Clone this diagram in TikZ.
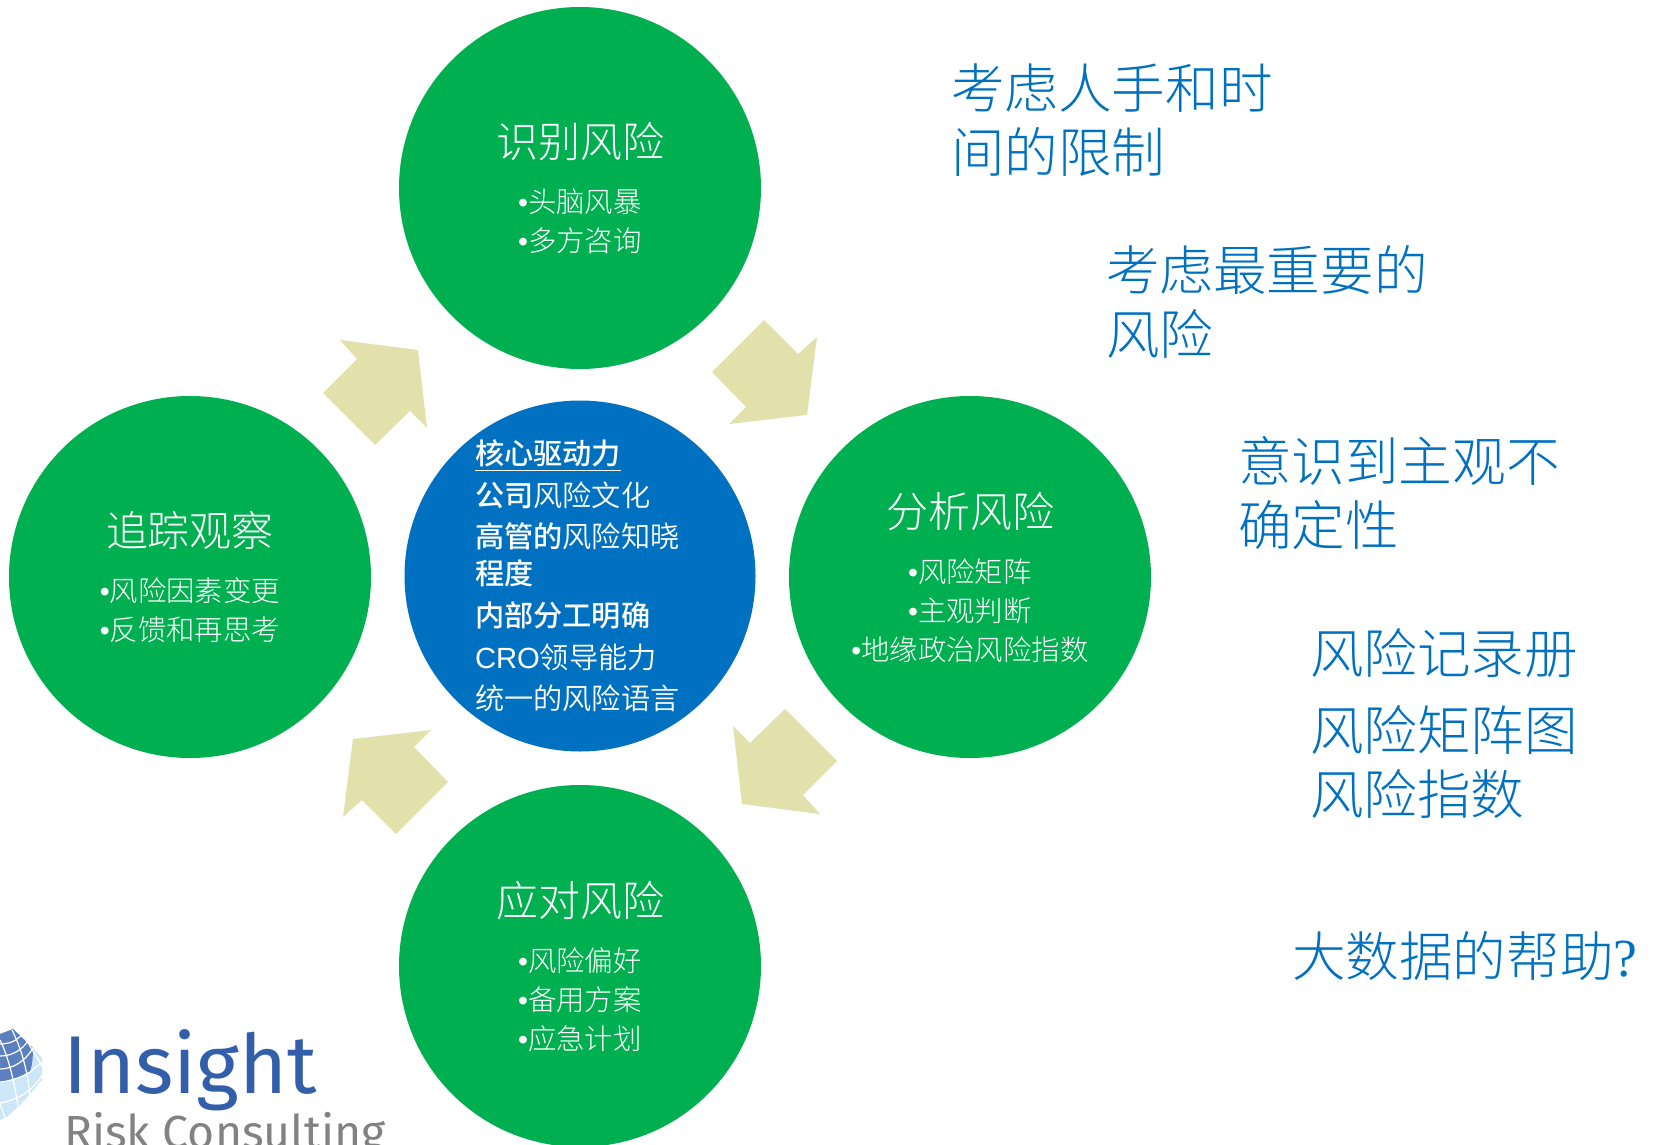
\documentclass[tikz,border=0pt]{standalone}
\usepackage{fontspec}
\usepackage{xcolor}
\setmainfont{Noto Sans CJK SC DemiLight}
\newfontfamily\thinfont{Noto Sans CJK SC Light}
\newfontfamily\medfont{Noto Sans CJK SC Medium}
\newfontfamily\latinfont{Liberation Sans}
\newfontfamily\qmarkfont{Liberation Serif}
\newfontfamily\logofont{Fira Sans}
\definecolor{riskgreen}{RGB}{0,176,80}
\definecolor{coreblue}{RGB}{0,112,192}
\definecolor{arrowkhaki}{RGB}{226,225,172}
\definecolor{logoblue}{RGB}{51,95,170}
\definecolor{logogray}{RGB}{130,130,130}
\definecolor{globedark}{RGB}{92,127,192}
\definecolor{globelight}{RGB}{205,230,248}
\newcommand{\stagename}[1]{{\fontsize{21}{27}\selectfont #1}\\[8pt]}
\newcommand{\stageline}[1]{{\latinfont •}#1}
\begin{document}
\begin{tikzpicture}[x=0.5pt,y=-0.5pt]
        \tikzstyle{every node}=[inner sep=0pt,outer sep=0pt]
        \tikzstyle{stage}=[circle,fill=riskgreen,text=white,minimum size=181pt,align=center,font=\fontsize{14.2}{19.5}\thinfont]
        \tikzstyle{core}=[circle,fill=coreblue,text=white,minimum size=175.5pt,text width=105pt,align=left,font=\fontsize{14.6}{18.5}\selectfont]
        \tikzstyle{note}=[anchor=west,align=left,text=coreblue,font=\fontsize{26.8}{32}\thinfont]
        \tikzstyle{flow}=[fill=arrowkhaki]
        \useasboundingbox (0,0) rectangle (1654,1145);
        \clip (0,0) rectangle (1654,1145);
        % circular arrows
        \foreach \ang in {0,-90,-180,-270}
            \fill[flow,rotate around={\ang:(580,577)}] (764,320) -- (798,354) -- (817,337) -- (807,415)
                -- (729,424) -- (746,407) -- (712,372) -- cycle;
        % stages
        \node[stage] (identify) at (580,188) {\stagename{识别风险}\stageline{头脑风暴}\\\stageline{多方咨询}};
        \node[stage] (analyse) at (970,577) {\stagename{分析风险}\stageline{风险矩阵}\\\stageline{主观判断}\\\stageline{地缘政治风险指数}};
        \node[stage] (respond) at (580,966) {\stagename{应对风险}\stageline{风险偏好}\\\stageline{备用方案}\\\stageline{应急计划}};
        \node[stage] (track) at (190,577) {\stagename{追踪观察}\stageline{风险因素变更}\\\stageline{反馈和再思考}};
        \node[core] (drivers) at (580,576) {\underline{\medfont 核心驱动力}\\[2.3pt]
            {\medfont 公司}风险文化\\[2.3pt]
            {\medfont 高管的}风险知晓\\
            {\medfont 程度}\\[2.3pt]
            {\medfont 内部分工明确}\\[2.3pt]
            {\latinfont CRO}领导能力\\[2.3pt]
            统一的风险语言};
        % notes
        \node[note] (limits) at (951,120) {考虑人手和时\\间的限制};
        \node[note] (priority) at (1106,302) {考虑最重要的\\风险};
        \node[note] (bias) at (1238,493) {意识到主观不\\确定性};
        \node[note] (register) at (1310,724) {风险记录册\\[6.5pt]风险矩阵图\\风险指数};
        \node[note] (bigdata) at (1292,956) {大数据的帮助{\qmarkfont ?}};
        % logo
        \fill[globelight] (13,1029) -- (33,1048) -- (42,1058) -- (42,1080) -- (22,1103) -- (7,1117) -- (0,1120) -- (0,1034) -- cycle;
        \fill[globedark] (13,1029) -- (33,1048) .. controls (33,1058) and (32,1066) .. (30,1072) .. controls (20,1078) and (10,1081) .. (0,1082) -- (0,1034) -- cycle;
        \draw[white,line width=0.6pt] (0,1044) .. controls (10,1044) and (18,1040) .. (22,1034)
            (0,1056) .. controls (12,1056) and (22,1050) .. (28,1041)
            (0,1069) .. controls (14,1069) and (26,1060) .. (33,1048)
            (0,1082) .. controls (10,1081) and (20,1078) .. (30,1072) -- (42,1062)
            (0,1103) .. controls (18,1100) and (34,1090) .. (42,1075)
            (24,1036) .. controls (30,1046) and (36,1056) .. (42,1066)
            (12,1030) .. controls (20,1046) and (27,1066) .. (30,1096)
            (0,1040) .. controls (8,1056) and (14,1080) .. (18,1106)
            (0,1104) -- (6,1120);
        \node[anchor=base west,text=logoblue,font=\fontsize{41}{50}\logofont] (insight) at (63,1093) {Insight};
        \node[anchor=base west,text=logogray,font=\fontsize{23.2}{25}\logofont] (consulting) at (64,1148) {Risk Consulting};
    \end{tikzpicture}
\end{document}
